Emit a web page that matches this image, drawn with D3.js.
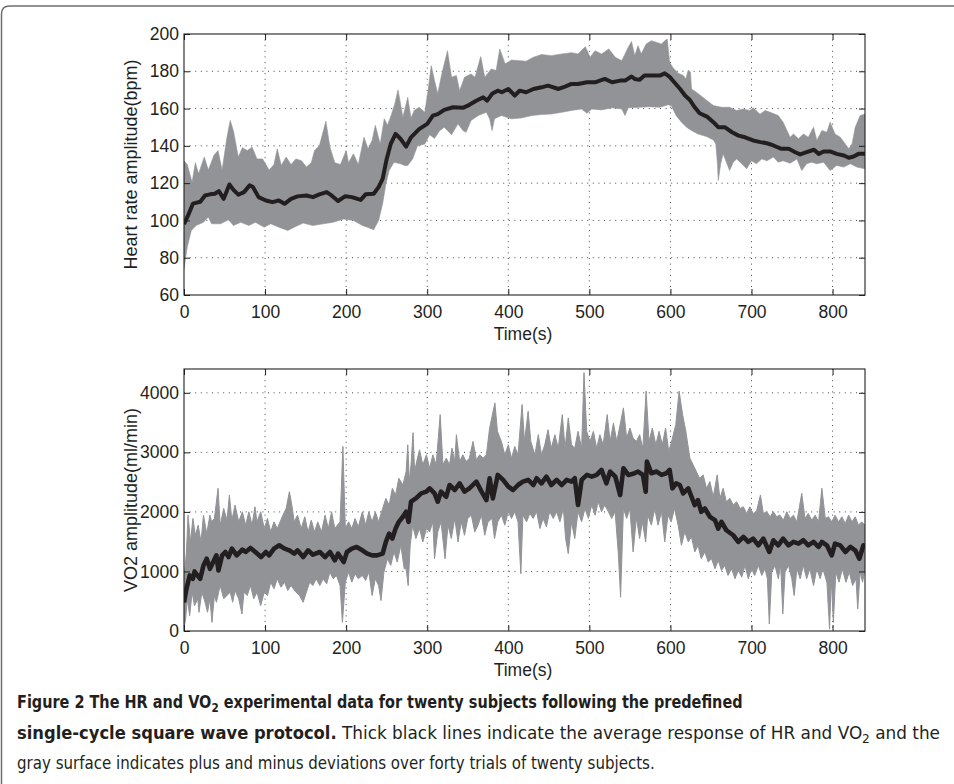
<!DOCTYPE html>
<html><head><meta charset="utf-8">
<script src="https://cdn.jsdelivr.net/npm/d3@7"></script>
<style>body{margin:0;background:#fff}svg{display:block}</style>
</head><body><svg id="c" width="954" height="784"></svg>
<script>
const timeTicks=[0,100,200,300,400,500,600,700,800];
const hrTicks=[60,80,100,120,140,160,180,200];
const vo2Ticks=[0,1000,2000,3000,4000];

const hrMean=[[0,98],[5,102.7],[11,109],[20,110],[26,113.4],[32,114],[38,114.3],[43,115.7],[49,111.6],[56,119.3],[61,116.4],[67,113.8],[74,115.2],[81,118.8],[85,117.9],[92,112.5],[101,110.7],[109,109.8],[117,110.7],[124,108.9],[132,111.6],[140,112.9],[151,113.4],[159,112.5],[167,114],[176,115.2],[182,113.4],[190,110.4],[199,113],[207,112.5],[218,111],[224,114],[234,114.3],[240,117.9],[245,122.3],[250,133],[255,141],[261,146.4],[267,143.8],[274,139.6],[280,144.6],[290,149],[300,151.8],[307,156.2],[313,157],[321,159.3],[332,160.7],[344,160.4],[352,162],[361,164.3],[369,166],[374,164.3],[380,167.9],[387,169.6],[392,168.75],[400,170.5],[408,167],[414,169.6],[422,168.75],[431,170.5],[441,171.4],[449,172.3],[462,170.5],[470,171.8],[478,173.2],[486,173.2],[497,174.1],[507,174.1],[519,175.9],[528,174.1],[538,175],[544,175],[552,177.2],[556,175.9],[562,175.4],[568,177.7],[579,177.7],[587,177.7],[593,178.9],[599,177],[605,174],[612,170.5],[618,167],[624,164.6],[630,160.7],[636,157.5],[645,155.7],[653,152.7],[659,150],[667,150],[676,147.3],[684,145.5],[692,144.6],[702,142.9],[711,142],[719,141.4],[727,140.2],[737,138.4],[746,138.4],[754,136.6],[760,135.4],[768,136.6],[777,137.9],[783,135.7],[789,137],[797,137],[805,135.7],[814,134.8],[820,133.6],[826,134.3],[832,135.7],[840,135.7]];

const hrUpper=[[0,132],[4,130],[10,120.5],[14,131],[18,125],[25,134],[30,127],[37,135],[42,137.5],[47,127],[53,144.6],[57,153.6],[61,148],[67,134],[72,139],[78,137.5],[84,139.3],[90,133],[97,133],[105,127],[111,130],[115,138.4],[120,129.5],[126,134],[132,130],[138,133],[145,132],[151,128.6],[157,131],[161,137.5],[167,140],[175,153.2],[180,139.3],[186,131],[193,130],[200,137.5],[203,131],[209,135.7],[215,130],[222,144.6],[227,138.4],[232,142.9],[236,151],[242,141],[247,154.5],[251,151],[256,157],[260,162.5],[264,170],[270,155.4],[276,166],[280,155],[284,159],[290,160.7],[297,158],[301,169.6],[305,183],[309,175],[313,168],[318,178.6],[325,191],[330,176.8],[336,177.7],[340,169.6],[346,176.8],[354,178.6],[359,176.8],[366,187.9],[371,176.8],[379,181.25],[385,180.4],[389.5,192],[396,184],[404,186],[414,185.7],[422,185.4],[431,187.5],[441,189],[453,188.4],[466,189.3],[478,190],[486,189.3],[495,193.2],[501,187.5],[507,191],[515,189.3],[524,192],[532,187.5],[540,185.7],[548,192.9],[552,196],[556,188.4],[560,193.75],[564,189.3],[570,194.6],[576.5,196.4],[583,195.5],[589,194.6],[593,196.4],[596,197.3],[599,184.8],[603,182],[609.5,179],[616,177.7],[619,175.9],[622,180.7],[624.7,179.5],[626,170.5],[632,168.75],[642.5,165.2],[653,161.6],[663,160.7],[673,160.7],[681.6,158.9],[690,159.8],[698,158.9],[702,160.4],[710.5,157],[716.7,158.9],[723,158],[733,156.25],[739,152.7],[747.6,144.6],[751.8,146.4],[758,143.75],[764,146.4],[770,144.6],[776.5,150],[780.6,142.9],[786.8,148.2],[793,147.3],[797,152.7],[803,146.4],[809.5,144.6],[815.7,141],[820,138.4],[824,141],[828,150],[834,156.25],[840,157]];

const hrLower=[[0,74],[4,85.7],[9,94.6],[15,97.3],[24,99],[30,101.8],[34,98.2],[45,98.2],[55,100.4],[61,97.3],[70,99],[80,97.3],[88,99],[99,96.4],[107,98.2],[117,96.4],[128,94.6],[136,96.4],[147,98.6],[159,97.3],[172,98.2],[184,99],[197,100.8],[209,100],[220,97.3],[226,96.4],[234,95],[240,100],[245,109],[249,119.6],[253,126.8],[259,131.2],[267,130.4],[272,129.5],[276,129.5],[282,133],[288,140],[297,141],[303,146],[309,144],[315,148],[321,150],[330,146],[338,151.8],[344,148.2],[348,147.3],[354,153.6],[363,156.25],[373,158],[377,154.5],[380,148.2],[383,154.5],[391.5,156.25],[404,154.5],[416,155],[429,156.25],[441,156.8],[453,157.1],[466,158],[478,159],[490.5,159.8],[497,157.5],[503,159.8],[515,159.3],[528,160.4],[540,159.8],[544,156.25],[548,160.4],[562,160.7],[574,161],[587,160.7],[597,162],[601,161.6],[607,156.25],[613.6,152.7],[620,150],[626,148.2],[634,146.4],[644.5,145],[653,143.2],[656,141],[658,130.4],[659,121.4],[662,130.4],[665,135.7],[669,131.25],[673,126.8],[677.5,131.25],[681.6,133],[688,130.4],[694,127.7],[700,132],[706,130.4],[712.6,133],[719,132],[727,134],[733,131.25],[739,132],[747.6,130.7],[756,133],[762,126.8],[768,130.4],[774,131.25],[780.6,130.4],[789,131.25],[797,126.8],[805,129.5],[813.6,128.6],[822,130.4],[830,128.6],[840,127.7]];

const vo2Mean=[[0,480],[3,707],[7,933],[11,877],[13,1000],[15,961],[20,877],[24,1101],[28,1214],[32,1045],[36,1158],[40,1270],[42.5,1017],[47,1270],[51,1327],[55,1242],[59,1383],[65,1270],[72,1366],[76,1327],[82,1394],[88,1327],[95,1242],[101,1327],[105,1270],[111,1383],[117.5,1439],[124,1383],[130,1355],[136,1299],[140,1355],[147,1242],[153,1355],[159,1282],[167.5,1327],[174,1242],[180,1327],[186,1186],[190,1299],[197,1158],[201,1327],[207,1383],[213,1411],[220,1355],[226,1299],[232,1270],[238,1270],[245,1299],[249,1496],[253,1636],[257,1552],[261,1720],[265,1833],[270,1918],[274,2002],[277,1833],[280,2171],[286,2227],[292.6,2312],[299,2340],[303,2396],[309,2312],[313,2171],[317,2340],[323.5,2255],[327.6,2452],[334,2368],[340,2480],[346,2340],[352,2396],[360.6,2509],[367,2340],[373,2199],[377,2565],[381,2227],[387,2621],[393.6,2537],[400,2424],[406,2368],[412,2452],[418,2509],[424.5,2537],[431,2452],[435,2565],[441,2480],[447,2593],[453,2452],[459.6,2537],[466,2452],[472,2537],[478,2509],[482,2565],[486,2115],[490.5,2537],[497,2621],[503,2593],[509,2621],[515,2706],[521,2480],[525.6,2678],[532,2593],[538,2283],[542,2734],[548,2621],[554,2640],[560,2678],[566,2621],[569.5,2340],[571,2847],[576.5,2649],[583,2678],[589,2621],[595,2649],[599,2706],[602.5,2396],[607,2480],[611.5,2452],[615.7,2312],[622,2396],[626,2255],[630,2115],[634,2199],[638,2002],[642.5,2058],[648.7,1918],[655,1861],[659,1720],[663,1833],[669,1692],[677.5,1608],[683.7,1496],[690,1580],[696,1496],[702,1552],[708.5,1439],[714.6,1552],[722,1327],[727,1524],[733,1439],[739,1552],[745.6,1439],[751.8,1496],[758,1468],[764,1524],[770,1439],[776.5,1496],[782.7,1411],[786.8,1496],[793,1439],[799,1270],[803,1468],[809.5,1439],[815.7,1327],[822,1411],[828,1355],[833,1214],[838,1439],[840,1400]];

const vo2Upper=[[0,877],[3,1327],[5,1946],[8,1496],[11,1890],[14,1608],[17.5,1777],[21,1496],[24,1946],[28,1636],[32,1946],[34,1833],[37.5,1890],[42,2396],[44.6,1777],[49,2058],[53,1861],[56,2283],[59,1861],[63,2115],[67.5,1833],[72,2002],[76,1777],[80,2002],[84,1777],[87.5,2086],[90,1833],[94.6,2002],[99,1720],[103,1890],[107,1664],[111,1833],[115,1720],[122,1946],[126,2058],[130,2340],[133,2115],[136,1833],[140,1946],[144.6,1720],[149,1918],[153,1664],[157,1861],[161,1664],[165,1833],[169.6,1664],[174,1946],[178,1720],[182,2002],[186,1720],[192.5,1833],[196,3100],[199,1720],[203,1833],[207,1720],[211,1890],[215,1749],[220,2002],[224,1777],[228,2002],[232,1833],[236,2002],[240,1833],[245,2058],[249,2227],[253,2115],[257,2396],[261,2283],[265,2565],[270,2452],[274,2678],[276,3128],[278,2509],[280,2790],[282.5,3330],[284.5,2678],[287,2846],[290.5,3043],[294.6,2790],[299,2959],[303,2734],[307,2959],[311,2790],[316,3634],[319.4,2790],[323.5,2903],[327.6,2790],[330.5,3071],[334,2846],[336,3297],[340,2846],[344,2959],[348,2846],[352,2903],[356.5,3184],[360.6,2875],[364.7,2959],[369,2903],[373,2959],[377,3409],[380,3606],[383.5,3831],[386.6,3353],[391.5,3184],[395.7,2959],[400,3128],[404,2903],[408,3100],[412,2959],[417,3803],[420,3184],[424.5,3690],[427.8,3184],[432.8,2959],[437,3297],[441,2959],[445,3128],[449,3381],[453,3071],[457.5,3297],[461.6,3071],[466.6,3634],[470,3071],[474,3578],[478,3128],[482,3071],[486,3353],[490.5,3071],[493.4,4338],[496.7,3353],[500.8,3184],[505,3353],[509,3071],[513,3297],[517,3128],[522,3634],[525.6,3184],[529.7,3494],[533.8,3184],[538,3465],[542,3747],[546,3240],[550,3409],[554,3240],[558,3184],[562,3297],[566,3071],[570,4028],[573.6,3184],[577.7,3409],[582,3128],[586,3353],[590,3128],[594,3409],[598,3015],[602.5,3240],[606.6,3465],[610.7,4028],[615,3634],[619,3353],[624,2903],[628,2790],[632,2678],[636,2565],[640.4,2621],[644.5,2396],[648.7,2509],[652.8,2255],[657.7,2621],[661,2227],[665,2396],[669,2171],[673.4,2227],[677.5,2115],[681.6,2171],[686,2058],[690,2086],[694,1974],[698,2086],[702,1974],[706,2002],[711,2283],[714.6,1974],[718.8,2002],[723,1918],[727,2002],[731,1918],[735,1946],[739.4,1861],[743.5,2002],[747.6,1890],[751.8,1946],[755.9,1833],[762,2312],[766,1890],[770,1974],[774.4,1861],[778.6,1946],[782.7,1833],[786.8,2396],[791,1890],[795,1918],[799,1833],[803,1946],[807.4,1833],[811.5,1918],[815.7,1805],[819.8,1946],[824,1833],[828,1918],[832,1777],[836,1833],[840,1777]];

const vo2Lower=[[0,50],[2,200],[4,540],[7,257],[10,652],[13,426],[17,540],[18.5,314],[22,652],[26,483],[29,314],[32,540],[34.5,145],[37.5,596],[40,483],[44.6,764],[49,540],[53,596],[57,652],[60,483],[63,680],[67.5,540],[71.5,286],[74,652],[78,596],[82,764],[86,540],[90,652],[94.6,426],[99,652],[103,596],[107,820],[111,708],[115,877],[119.6,736],[124,820],[128,680],[132,764],[138,652],[142.5,596],[147,483],[151,652],[155,820],[159,764],[163,877],[167.5,764],[171.6,877],[176,792],[180,989],[184,877],[188,933],[192.5,764],[195.4,145],[199,820],[203,989],[207,820],[211,961],[215,877],[220,933],[224,849],[228,989],[232,596],[236,877],[240,764],[243,511],[246.6,989],[251,1214],[255,1101],[259,1327],[263,1158],[267.5,1439],[271.6,1045],[274,1045],[276.5,764],[279,1439],[282,1777],[286,1552],[290.5,1720],[294.6,1496],[299,1720],[303,1664],[307,1833],[309,1214],[313,1664],[317,1833],[322,1214],[325.6,1777],[329.7,1552],[334,1890],[338,1496],[342,1833],[346,1608],[350,1890],[354.4,1946],[358.6,1664],[362.7,1777],[366.8,1946],[371,1608],[375,1833],[380,1890],[383,1552],[387,1833],[391.5,1946],[395.7,1777],[400,2002],[404,1890],[408,2002],[412,1833],[415.5,961],[418,1946],[422.5,1833],[426.6,1974],[430.7,1890],[435,2002],[439,1720],[443,1890],[447,1749],[451,2002],[455.5,1890],[459.6,2002],[463.7,1833],[468,2058],[470.7,1552],[474,1299],[478,1833],[482,1552],[486,2002],[490.5,1833],[494.6,2058],[498.8,1890],[503,2115],[507,1946],[511,2171],[515,2002],[519,2115],[523.5,2002],[527.6,1890],[531.8,2002],[535.9,1270],[538.5,567],[542,2058],[546,1890],[550,2050],[554,1327],[558,1900],[562,1552],[565.4,1833],[569.5,1496],[572,1946],[576.5,1777],[580.6,2058],[584.7,1777],[589,2002],[593,1496],[597,1946],[601,1833],[605,2058],[609.5,1777],[613.6,1439],[617.7,1664],[622,1496],[626,1580],[630,1327],[634,1439],[638,1214],[642.5,1327],[646.6,1158],[650.7,1214],[655,1045],[659,1186],[663,1017],[667,1101],[671,933],[675.5,1045],[679.6,877],[683.7,1017],[688,905],[692,1101],[696,877],[700,1045],[704,933],[708.5,1101],[712.6,933],[716.7,1045],[719.6,877],[722,117],[725,989],[729,1101],[733,877],[736,1101],[738.6,286],[741.4,989],[745.6,1101],[749.7,877],[752.6,596],[756,1045],[760,877],[764,1101],[768,877],[772,1045],[776.5,764],[780.6,1045],[784.7,877],[788,1045],[793,820],[796.3,32],[798.4,877],[801,145],[804,989],[808,820],[812,1045],[816.5,820],[820.6,989],[824.7,764],[828.9,877],[831,370],[834,989],[837,820],[840,1045]];

const svg=d3.select("#c");
const INK="#231f20", BAND="#929397";
const FONT="Liberation Sans, Arial, Helvetica, sans-serif";

svg.append("path").attr("d","M1.5,784 V14 Q1.5,6 9.5,6 H954")
  .attr("fill","none").attr("stroke","#6e6e6e").attr("stroke-width",1.5);

function panel(o){
  const x=d3.scaleLinear().domain([0,840]).range([184,865]);
  const y=d3.scaleLinear().domain(o.domain).range([o.bottom,o.top]);
  const g=svg.append("g");
  const cid="clip"+o.id;
  g.append("clipPath").attr("id",cid).append("rect")
    .attr("x",184).attr("y",o.top).attr("width",865-184).attr("height",o.bottom-o.top);
  const grid=g.append("g").attr("stroke","#333").attr("stroke-width",0.9).attr("stroke-dasharray","1,4.6");
  grid.selectAll(".gx").data(timeTicks.filter(t=>t>0)).join("line")
    .attr("x1",d=>x(d)).attr("x2",d=>x(d)).attr("y1",o.top).attr("y2",o.bottom);
  grid.selectAll(".gy").data(o.ticks.filter(t=>t>o.domain[0]&&t<o.domain[1])).join("line")
    .attr("y1",d=>y(d)).attr("y2",d=>y(d)).attr("x1",184).attr("x2",865);
  const line=d3.line().x(d=>x(d[0])).y(d=>y(d[1]));
  const poly=o.upper.concat(o.lower.slice().reverse());
  g.append("path").attr("clip-path",`url(#${cid})`).attr("d",line(poly)+"Z")
    .attr("fill",BAND).attr("stroke",BAND).attr("stroke-width",o.bandStroke).attr("stroke-linejoin","miter");
  g.append("path").attr("clip-path",`url(#${cid})`).attr("d",line(o.mean))
    .attr("fill","none").attr("stroke",INK).attr("stroke-width",o.meanW).attr("stroke-linejoin","round");
  g.append("rect").attr("x",184).attr("y",o.top).attr("width",865-184).attr("height",o.bottom-o.top)
    .attr("fill","none").attr("stroke",INK).attr("stroke-width",1.1);
  const ax=(gen,tr)=>{const a=g.append("g").attr("transform",tr).call(gen);a.select(".domain").remove();
    a.attr("font-family",FONT).attr("font-size",17.5);
    a.selectAll("line").attr("stroke",INK).attr("stroke-width",1);
    a.selectAll("text").attr("fill",INK);return a;};
  const fmt=d3.format("d");
  ax(d3.axisBottom(x).tickValues(timeTicks).tickFormat(fmt).tickSizeInner(-6).tickSizeOuter(0).tickPadding(10.5),`translate(0,${o.bottom})`);
  ax(d3.axisTop(x).tickValues(timeTicks).tickSizeInner(-6).tickSizeOuter(0).tickFormat(""),`translate(0,${o.top})`);
  ax(d3.axisLeft(y).tickValues(o.ticks).tickFormat(fmt).tickSizeInner(-6).tickSizeOuter(0).tickPadding(5),`translate(184,0)`);
  ax(d3.axisRight(y).tickValues(o.ticks).tickSizeInner(-6).tickSizeOuter(0).tickFormat(""),`translate(865,0)`);
  g.append("text").attr("x",523).attr("y",o.bottom+45).attr("text-anchor","middle")
    .attr("fill",INK).attr("font-family",FONT).attr("font-size",17.5).text("Time(s)");
  g.append("text").attr("transform",`translate(137,${(o.top+o.bottom)/2}) rotate(-90)`).attr("text-anchor","middle")
    .attr("fill",INK).attr("font-family",FONT).attr("font-size",18).text(o.ylabel);
}

panel({id:"hr",domain:[60,200],top:34,bottom:295,ticks:hrTicks,upper:hrUpper,lower:hrLower,mean:hrMean,
  ylabel:"Heart rate amplitude(bpm)",meanW:4,bandStroke:0.6});
panel({id:"vo2",domain:[0,4400],top:369,bottom:631,ticks:vo2Ticks,upper:vo2Upper,lower:vo2Lower,mean:vo2Mean,
  ylabel:"VO2 amplitude(ml/min)",meanW:4.6,bandStroke:1});

// caption: each line is a group of runs, scaled horizontally to the reference width
const CAP="DejaVu Sans Condensed, DejaVu Sans, sans-serif";
function capLine(x0,y0,target,size,runs){
  const g=svg.append("g").attr("fill","#231f20").attr("font-family",CAP);
  let cx=0;
  runs.forEach(r=>{
    const t=g.append("text").attr("x",cx).attr("y",r.sub?4:0).style("white-space","pre")
      .attr("font-size",r.sub?size*0.72:size).attr("font-weight",r.bold?"bold":"normal").text(r.t);
    cx+=t.node().getComputedTextLength();
  });
  g.attr("transform",`translate(${x0},${y0}) scale(${target/cx},1)`);
}
capLine(17,708,726,17,[{t:"Figure 2 The HR and VO",bold:1},{t:"2",bold:1,sub:1},{t:" experimental data for twenty subjects following the predefined",bold:1}]);
capLine(17,739,320,17,[{t:"single-cycle square wave protocol.",bold:1}]);
capLine(342,739,598,17.6,[{t:"Thick black lines indicate the average response of HR and VO"},{t:"2",sub:1},{t:" and the"}]);
capLine(17,769,638,17,[{t:"gray surface indicates plus and minus deviations over forty trials of twenty subjects."}]);
</script></body></html>
